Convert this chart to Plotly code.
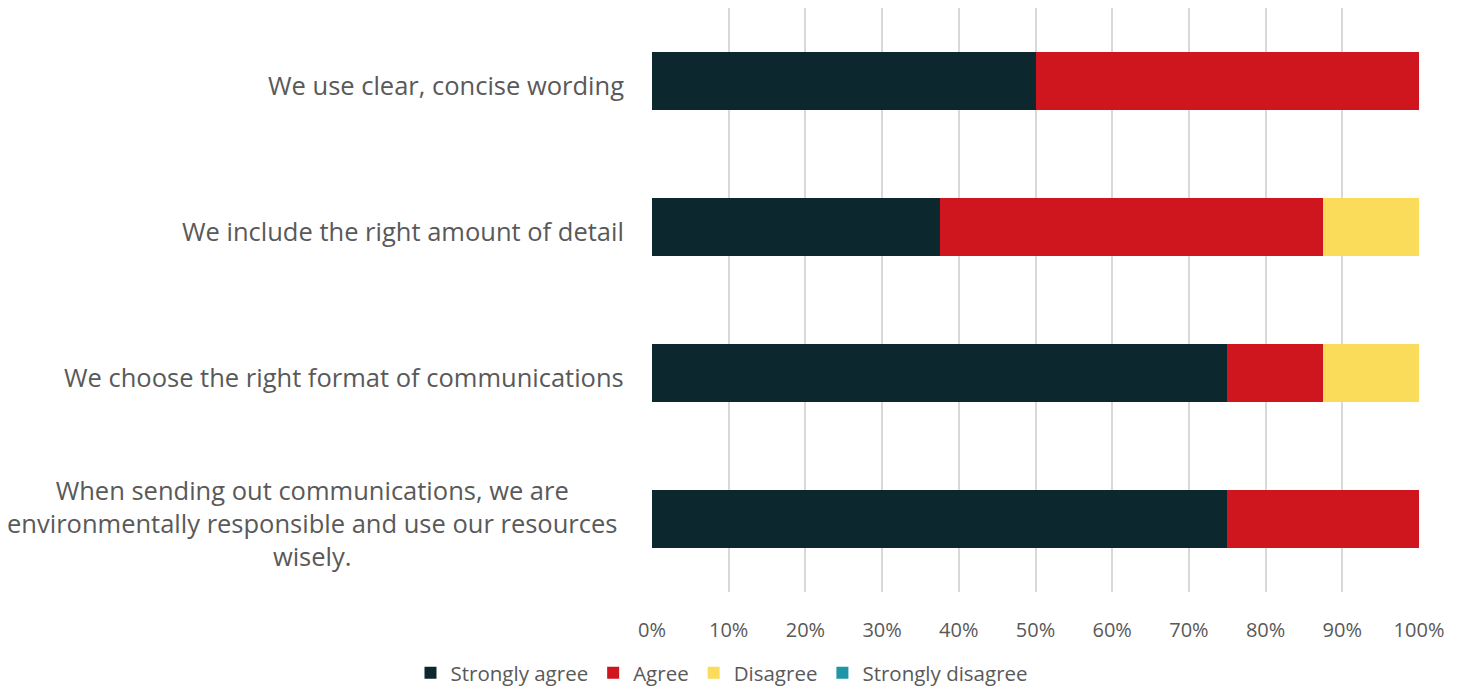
import plotly.graph_objects as go

categories = [
    "We use clear, concise wording",
    "We include the right amount of detail",
    "We choose the right format of communications",
    "When sending out communications, we are<br>environmentally responsible and use our resources<br>wisely.",
]
series_names = ["Strongly agree", "Agree", "Disagree", "Strongly disagree"]
strongly_agree = [50, 37.5, 75, 75]
agree = [50, 50, 12.5, 25]
disagree = [0, 12.5, 12.5, 0]
strongly_disagree = [0, 0.15, 0.15, 0]
colors = ["#0C282E", "#CF161E", "#FADC5A", "#1E96A6"]
tick_vals = [0, 10, 20, 30, 40, 50, 60, 70, 80, 90, 100]
tick_text = [f"{v}%" for v in tick_vals]

FONT = "Open Sans"
GREY = "#595959"

fig = go.Figure()
for name, vals, col in zip(series_names,
                           [strongly_agree, agree, disagree, strongly_disagree],
                           colors):
    fig.add_trace(go.Bar(
        y=categories, x=vals, name=name, orientation="h",
        marker=dict(color=col, line=dict(width=0)),
        hoverinfo="x+name",
    ))

# page has an 8px body margin; compensate
W, H = 1457, 681
L, R, T, B = 644, 46, 0, 97
plot_w = W - L - R

annotations = []
for cat in categories:
    multi = "<br>" in cat
    annotations.append(dict(
        x=-(33 if multi else 26) / plot_w, xref="paper",
        y=cat, yref="y", yshift=-4,
        text=cat, showarrow=False,
        xanchor="right", yanchor="middle",
        align="center" if multi else "right",
        font=dict(family=FONT, size=25.5, color=GREY),
    ))

fig.update_layout(
    width=W, height=H,
    margin=dict(l=L, r=R, t=T, b=B),
    barmode="stack",
    bargap=0.6,
    plot_bgcolor="white",
    paper_bgcolor="white",
    font=dict(family=FONT, color=GREY),
    xaxis=dict(
        range=[0, 100],
        tickvals=tick_vals, ticktext=tick_text,
        showgrid=True, gridcolor="#D9D9D9", gridwidth=1.5,
        zeroline=False, showline=False,
        tickfont=dict(family=FONT, size=20, color=GREY),
        ticks="", ticklabelstandoff=24,
    ),
    yaxis=dict(
        categoryorder="array", categoryarray=categories[::-1],
        showticklabels=False, showgrid=False, zeroline=False,
        range=[-0.5, 3.5],
    ),
    legend=dict(
        orientation="h", xref="container", yref="container",
        x=714 / W, xanchor="center", y=16 / H, yanchor="middle",
        font=dict(family=FONT, size=20.5, color=GREY),
        traceorder="normal", itemwidth=30,
    ),
    annotations=annotations,
)

fig.write_html("out.html")
